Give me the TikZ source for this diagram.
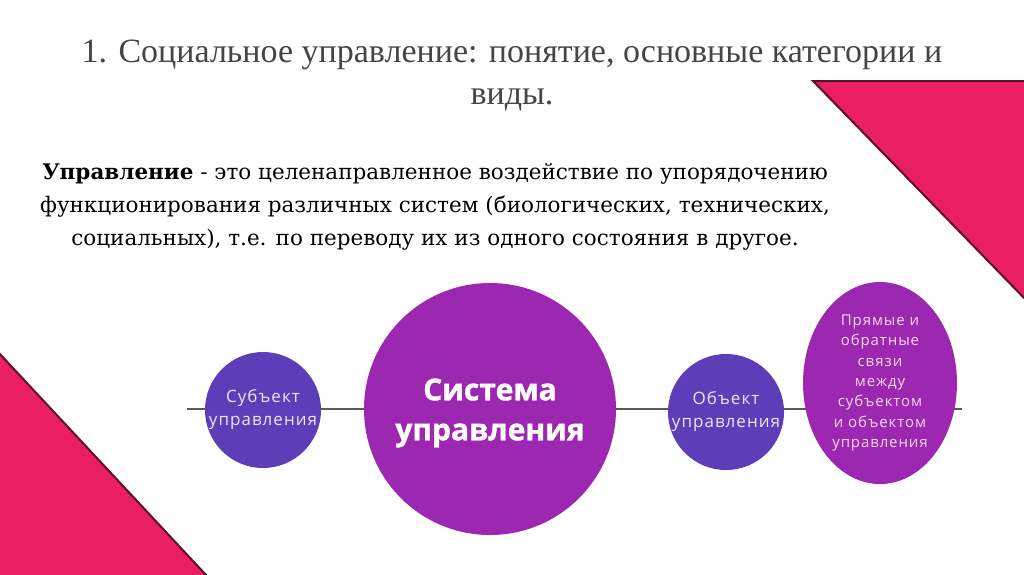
\documentclass[tikz,border=0pt]{standalone}
\usepackage{fontspec}
\setmainfont{Liberation Serif}
\newfontfamily\bodyfont{DejaVu Serif}
\newfontfamily\osansw[LetterSpace=6]{Open Sans}
\newfontfamily\osansheavy[BoldFeatures={FakeBold=1.2}]{Open Sans}
\usetikzlibrary{shapes.geometric}
\definecolor{pinkfill}{HTML}{E91E63}
\definecolor{pinkedge}{HTML}{5E0F2C}
\definecolor{indigoc}{HTML}{5E3DB8}
\definecolor{purplec}{HTML}{9C27B0}
\definecolor{titlegray}{HTML}{454545}
\definecolor{linegray}{HTML}{5A5A5A}
\definecolor{ellipsetext}{HTML}{F6D8F4}
\definecolor{circtext}{HTML}{EDE6FA}
\tikzset{
  tri/.style={fill=pinkfill,draw=pinkedge,line width=2pt,line join=miter},
  smallcirc/.style={circle,fill=indigoc,minimum size=116pt,inner sep=0pt,text=circtext,align=center,font=\osansw\fontsize{17}{23}\selectfont},
  bigcirc/.style={circle,fill=purplec,minimum size=252pt,inner sep=0pt,text=white,align=center,font=\osansheavy\bfseries\fontsize{30}{40}\selectfont},
  relell/.style={ellipse,fill=purplec,minimum width=154pt,minimum height=202pt,inner sep=0pt,text=ellipsetext,align=center,font=\osansw\fontsize{15}{20.3}\selectfont},
  axisline/.style={draw=linegray,line width=1.3pt},
}
\begin{document}
\begin{tikzpicture}[x=1pt,y=-1pt]
\useasboundingbox (0,0) rectangle (1024,574);
\fill[white] (0,0) rectangle (1024,574);
% triangles
\draw[tri] (813,81) -- (1026,81) -- (1026,300) -- cycle;
\draw[tri] (-2,352) -- (207,576) -- (-2,576) -- cycle;
% title
\node[text=titlegray,align=center,font=\fontsize{34}{42}\selectfont] (title) at (512,76)
  {1. Социальное управление: понятие, основные категории и\\виды.};
% body
\node[text=black,align=center,font=\bodyfont\fontsize{21.5}{33}\selectfont] (body) at (435,207)
  {\textbf{Управление} - это целенаправленное воздействие по упорядочению\\
   функционирования различных систем (биологических, технических,\\
   социальных), т.е. по переводу их из одного состояния в другое.};
% axis
\coordinate (lineL) at (187,409);
\coordinate (lineR) at (962,409);
\draw[axisline] (lineL) -- (lineR);
% nodes
\node[smallcirc] (sub) at (263,410) {Субъект\\управления};
\node[bigcirc] (sys) at (490,409) {};
\node[text=white,align=center,font=\osansheavy\bfseries\fontsize{30}{40}\selectfont] (systext) at (sys.center) [yshift=-4pt] {Система\\управления};
\node[smallcirc] (obj) at (726,412) {Объект\\управления};
\node[relell] (rel) at (880,383) {Прямые и\\обратные\\связи\\между\\субъектом\\и объектом\\управления};
\end{tikzpicture}
\end{document}
